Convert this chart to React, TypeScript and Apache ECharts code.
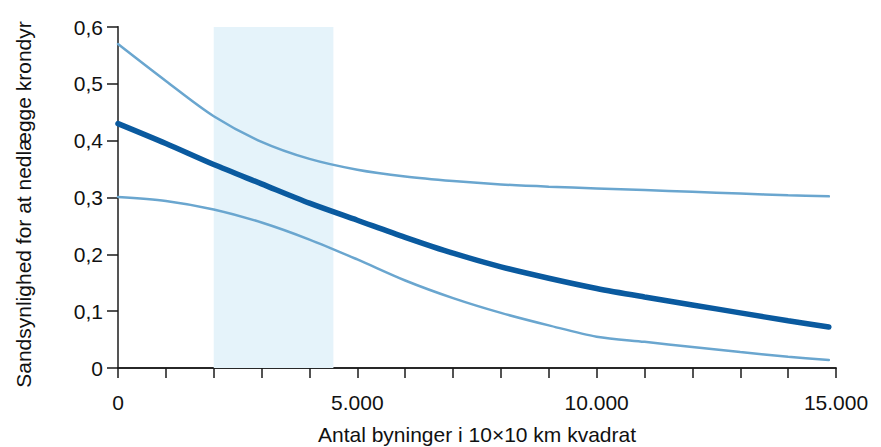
import React, { useEffect, useRef } from "react";
import * as echarts from "echarts";

const xValues = [0, 1000, 2000, 3000, 4000, 5000, 6000, 7000, 8000, 9000, 10000, 11000, 12000, 13000, 14000, 14850];
const centerValues = [0.430, 0.395, 0.358, 0.324, 0.290, 0.260, 0.230, 0.202, 0.178, 0.158, 0.140, 0.125, 0.111, 0.097, 0.083, 0.072];
const upperValues = [0.570, 0.505, 0.443, 0.398, 0.368, 0.349, 0.337, 0.329, 0.323, 0.319, 0.316, 0.313, 0.310, 0.307, 0.304, 0.302];
const lowerValues = [0.301, 0.294, 0.279, 0.256, 0.226, 0.191, 0.154, 0.123, 0.097, 0.075, 0.055, 0.046, 0.037, 0.028, 0.020, 0.014];
const bandRange = [2000, 4500];
const xLabelValues = [0, 5000, 10000, 15000];
const xTitle = "Antal byninger i 10×10 km kvadrat";
const yTitle = "Sandsynlighed for at nedlægge krondyr";

const FONT = "'Liberation Sans', Arial, Helvetica, sans-serif";

function pairs(ys: number[]) {
  return xValues.map((x, i) => [x, ys[i]]);
}

function fmtThousands(v: number) {
  return String(v).replace(/\B(?=(\d{3})+(?!\d))/g, ".");
}

export default function App() {
  const ref = useRef<HTMLDivElement>(null);
  useEffect(() => {
    if (!ref.current) return;
    const chart = echarts.init(ref.current, null, { renderer: "svg" });
    const thin = "#6aa6cf";
    const dark = "#0a5a9f";
    chart.setOption({
      animation: false,
      backgroundColor: "#ffffff",
      grid: { left: 118, right: 45, top: 27, bottom: 79, containLabel: false, outerBoundsMode: "none" },
      xAxis: [
        {
          type: "value",
          min: 0,
          max: 15000,
          interval: 1000,
          position: "bottom",
          name: xTitle,
          nameLocation: "middle",
          nameGap: 56,
          nameTextStyle: { fontFamily: FONT, fontSize: 21, color: "#111" },
          axisLine: { show: true, lineStyle: { color: "#1a1a1a", width: 1.5 } },
          axisTick: { show: true, inside: false, length: 10, lineStyle: { color: "#1a1a1a", width: 1.5 } },
          axisLabel: {
            fontFamily: FONT,
            fontSize: 21,
            color: "#111",
            margin: 24,
            formatter: (v: number) => (xLabelValues.includes(v) ? fmtThousands(v) : ""),
          },
          splitLine: { show: false },
        },
        {
          type: "value",
          min: 0,
          max: 15000,
          position: "top",
          axisLine: { show: true, lineStyle: { color: "#1a1a1a", width: 1.5 } },
          axisTick: { show: false },
          axisLabel: { show: false },
          splitLine: { show: false },
        },
      ],
      yAxis: [
        {
          type: "value",
          min: 0,
          max: 0.6,
          interval: 0.1,
          position: "left",
          name: yTitle,
          nameLocation: "middle",
          nameGap: 84,
          nameRotate: 90,
          nameTextStyle: { fontFamily: FONT, fontSize: 21, color: "#111", padding: [0, 14, 0, 0] },
          axisLine: { show: true, lineStyle: { color: "#1a1a1a", width: 1.5 } },
          axisTick: { show: true, inside: false, length: 11, lineStyle: { color: "#1a1a1a", width: 1.5 } },
          axisLabel: {
            fontFamily: FONT,
            fontSize: 21,
            color: "#111",
            margin: 15,
            formatter: (v: number) => (v === 0 ? "0" : v.toFixed(1).replace(".", ",")),
          },
          splitLine: { show: false },
        },
        {
          type: "value",
          min: 0,
          max: 0.6,
          position: "right",
          axisLine: { show: true, lineStyle: { color: "#555555", width: 2 } },
          axisTick: { show: false },
          axisLabel: { show: false },
          splitLine: { show: false },
        },
      ],
      series: [
        {
          type: "line",
          name: "upper",
          data: pairs(upperValues),
          smooth: 0.3,
          showSymbol: false,
          lineStyle: { color: thin, width: 2.5, cap: "round" },
          markArea: {
            silent: true,
            itemStyle: { color: "#e5f3fa" },
            data: [[{ xAxis: bandRange[0] }, { xAxis: bandRange[1] }]],
          },
          z: 2,
        },
        {
          type: "line",
          name: "lower",
          data: pairs(lowerValues),
          smooth: 0.3,
          showSymbol: false,
          lineStyle: { color: thin, width: 2.5, cap: "round" },
          z: 2,
        },
        {
          type: "line",
          name: "center",
          data: pairs(centerValues),
          smooth: 0.3,
          showSymbol: false,
          lineStyle: { color: dark, width: 5.5, cap: "round" },
          z: 3,
        },
      ],
    });
    return () => chart.dispose();
  }, []);
  return (
    <div
      ref={ref}
      style={{ position: "absolute", left: 0, top: 0, width: 881, height: 447 }}
    />
  );
}
